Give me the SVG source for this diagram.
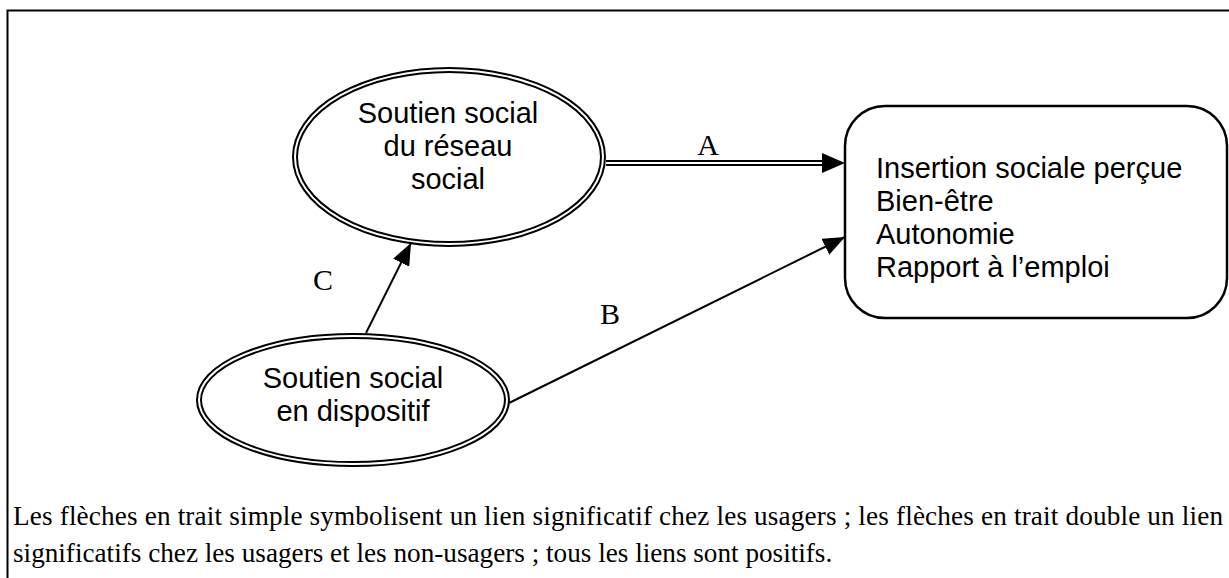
<svg xmlns="http://www.w3.org/2000/svg" width="1229" height="578" viewBox="0 0 1229 578">
<style>
.bg{fill:#fff}
.frame{stroke:#000;stroke-width:2;fill:none}
.dbl-o{fill:#fff;stroke:#000;stroke-width:6}
.dbl-i{fill:none;stroke:#fff;stroke-width:2}
.box{fill:#fff;stroke:#000;stroke-width:2.5}
.ntext{font-family:"Liberation Sans",Arial,sans-serif;font-size:29px;fill:#000}
.lbl{font-family:"Liberation Serif","Times New Roman",serif;font-size:30px;fill:#000}
.cap{font-family:"Liberation Serif","Times New Roman",serif;font-size:27.2px;fill:#000}
.line{stroke:#000;stroke-width:2;fill:none}
</style>
<defs>
<marker id="arr" viewBox="0 0 22 18" refX="22" refY="9" markerWidth="22" markerHeight="18" markerUnits="userSpaceOnUse" orient="auto">
<path d="M0,0 L22,9 L0,18 Z" fill="#000"/>
</marker>
</defs>
<rect class="bg" x="0" y="0" width="1229" height="578"/>
<path class="frame" d="M7.5,578 L7.5,10.5 L1229,10.5"/>
<g id="connectors">
<line x1="606" y1="163" x2="826" y2="163" stroke="#000" stroke-width="6"/>
<line x1="604" y1="163" x2="824" y2="163" stroke="#fff" stroke-width="2"/>
<polygon points="822,153 845,163 822,173" fill="#000"/>
<line class="line" x1="509" y1="403" x2="845" y2="237" marker-end="url(#arr)"/>
<line class="line" x1="366" y1="333" x2="411" y2="243" marker-end="url(#arr)"/>
<text class="lbl" x="708" y="155" text-anchor="middle">A</text>
<text class="lbl" x="610" y="324" text-anchor="middle">B</text>
<text class="lbl" x="323" y="290" text-anchor="middle">C</text>
</g>
<g id="node-reseau">
<ellipse class="dbl-o" cx="449" cy="157" rx="154" ry="87"/>
<ellipse class="dbl-i" cx="449" cy="157" rx="154" ry="87"/>
<text class="ntext" x="448" y="123" text-anchor="middle">Soutien social</text>
<text class="ntext" x="448" y="156" text-anchor="middle">du réseau</text>
<text class="ntext" x="448" y="189" text-anchor="middle">social</text>
</g>
<g id="node-dispositif">
<ellipse class="dbl-o" cx="353" cy="400" rx="154" ry="64"/>
<ellipse class="dbl-i" cx="353" cy="400" rx="154" ry="64"/>
<text class="ntext" x="353" y="388" text-anchor="middle">Soutien social</text>
<text class="ntext" x="353" y="421" text-anchor="middle">en dispositif</text>
</g>
<g id="node-insertion">
<rect class="box" x="845" y="106" width="382" height="212" rx="40" ry="40"/>
<text class="ntext" x="876" y="178">Insertion sociale perçue</text>
<text class="ntext" x="876" y="211">Bien-être</text>
<text class="ntext" x="876" y="244">Autonomie</text>
<text class="ntext" x="876" y="277">Rapport à l’emploi</text>
</g>
<g id="caption">
<text class="cap" x="13" y="525" textLength="1210" lengthAdjust="spacing">Les flèches en trait simple symbolisent un lien significatif chez les usagers ; les flèches en trait double un lien</text>
<text class="cap" x="13" y="562">significatifs chez les usagers et les non-usagers ; tous les liens sont positifs.</text>
</g>
</svg>
